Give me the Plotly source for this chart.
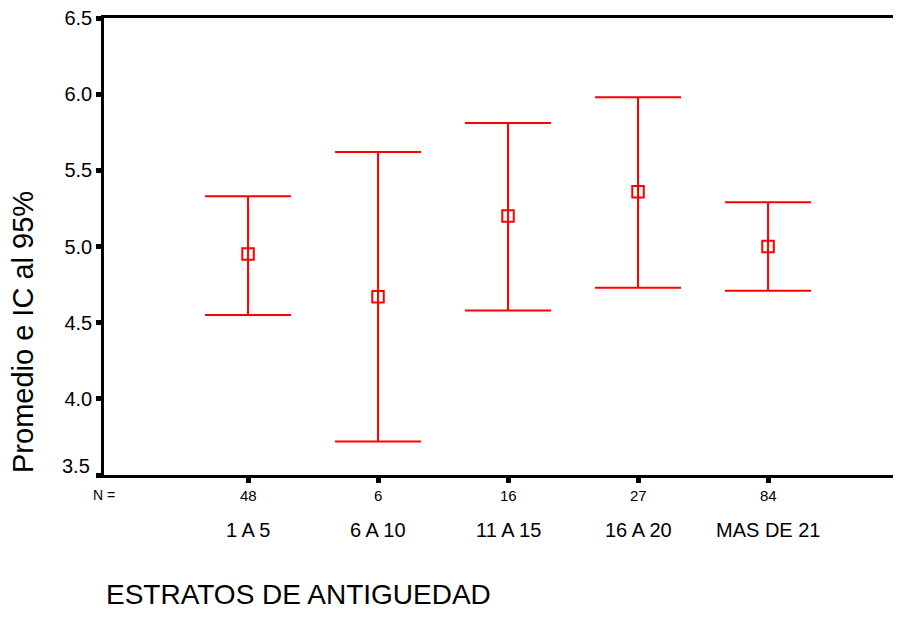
import plotly.graph_objects as go

categories = ["1 A 5", "6 A 10", "11 A 15", "16 A 20", "MAS DE 21"]
n_values = [48, 6, 16, 27, 84]
means = [4.95, 4.67, 5.20, 5.36, 5.00]
lower = [4.55, 3.72, 4.58, 4.73, 4.71]
upper = [5.33, 5.62, 5.81, 5.98, 5.29]
y_ticks = [3.5, 4.0, 4.5, 5.0, 5.5, 6.0, 6.5]

RED = "#ff0000"
FONT = "Arial, Liberation Sans, sans-serif"

err_plus = [u - m for u, m in zip(upper, means)]
err_minus = [m - l for m, l in zip(means, lower)]

fig = go.Figure()
fig.add_trace(go.Scatter(
    x=categories, y=means, mode="markers",
    marker=dict(symbol="square-open", size=11.5, color=RED, line=dict(width=2, color=RED)),
    error_y=dict(type="data", symmetric=False, array=err_plus, arrayminus=err_minus,
                 color=RED, thickness=2, width=43),
    showlegend=False, hoverinfo="skip",
))

# page offset introduced by the default body margin
OFF = 8
W, H = 901 - OFF, 617 - OFF
L, R, T, B = 104 - OFF, 0, 18 - OFF, 142
pw, ph = W - L - R, H - T - B

def py(page_y):
    return (H - B - (page_y - OFF)) / ph

def px(page_x):
    return ((page_x - OFF) - L) / pw

annotations = []
for c, n in zip(categories, n_values):
    annotations.append(dict(x=c, y=py(495), xref="x", yref="paper", text=str(n),
                            showarrow=False, xanchor="center", yanchor="middle",
                            font=dict(family=FONT, size=15, color="black")))
    annotations.append(dict(x=c, y=py(530), xref="x", yref="paper", text=c,
                            showarrow=False, xanchor="center", yanchor="middle",
                            font=dict(family=FONT, size=20, color="black")))
annotations.append(dict(x=px(104), y=py(495), xref="paper", yref="paper", text="N =",
                        showarrow=False, xanchor="center", yanchor="middle",
                        font=dict(family=FONT, size=14, color="black")))
annotations.append(dict(x=px(104), y=py(594), xref="paper", yref="paper",
                        text="ESTRATOS DE ANTIGUEDAD", showarrow=False,
                        xanchor="left", yanchor="middle",
                        font=dict(family=FONT, size=28, color="black")))
annotations.append(dict(x=px(23), y=py(332), xref="paper", yref="paper",
                        text="Promedio e IC al 95%", showarrow=False, textangle=-90,
                        xanchor="center", yanchor="middle",
                        font=dict(family=FONT, size=29, color="black")))
# lowest y tick label sits slightly above its tick in the original
annotations.append(dict(x=0, y=y_ticks[0], xref="paper", yref="y",
                        text=f"{y_ticks[0]:.1f}", showarrow=False,
                        xanchor="right", yanchor="middle", xshift=-12, yshift=9,
                        font=dict(family=FONT, size=20, color="black")))

tick_text = [""] + [f"{v:.1f}" for v in y_ticks[1:]]

fig.update_layout(
    width=W, height=H,
    margin=dict(l=L, r=R, t=T, b=B),
    paper_bgcolor="white", plot_bgcolor="white",
    font=dict(family=FONT, color="black"),
    annotations=annotations,
    xaxis=dict(
        type="category", range=[-1.108, 5.023],
        showgrid=False, zeroline=False,
        showline=True, linecolor="black", linewidth=2.5, mirror=True,
        ticks="outside", ticklen=5, tickwidth=5, tickcolor="black",
        showticklabels=False,
    ),
    yaxis=dict(
        range=[3.5, 6.5], tickvals=y_ticks, ticktext=tick_text,
        showgrid=False, zeroline=False,
        showline=True, linecolor="black", linewidth=2.5,
        ticks="outside", ticklen=5, tickwidth=5, tickcolor="black",
        ticklabeloverflow="allow",
        tickfont=dict(family=FONT, size=20, color="black"),
    ),
)

fig.write_html("out.html")
